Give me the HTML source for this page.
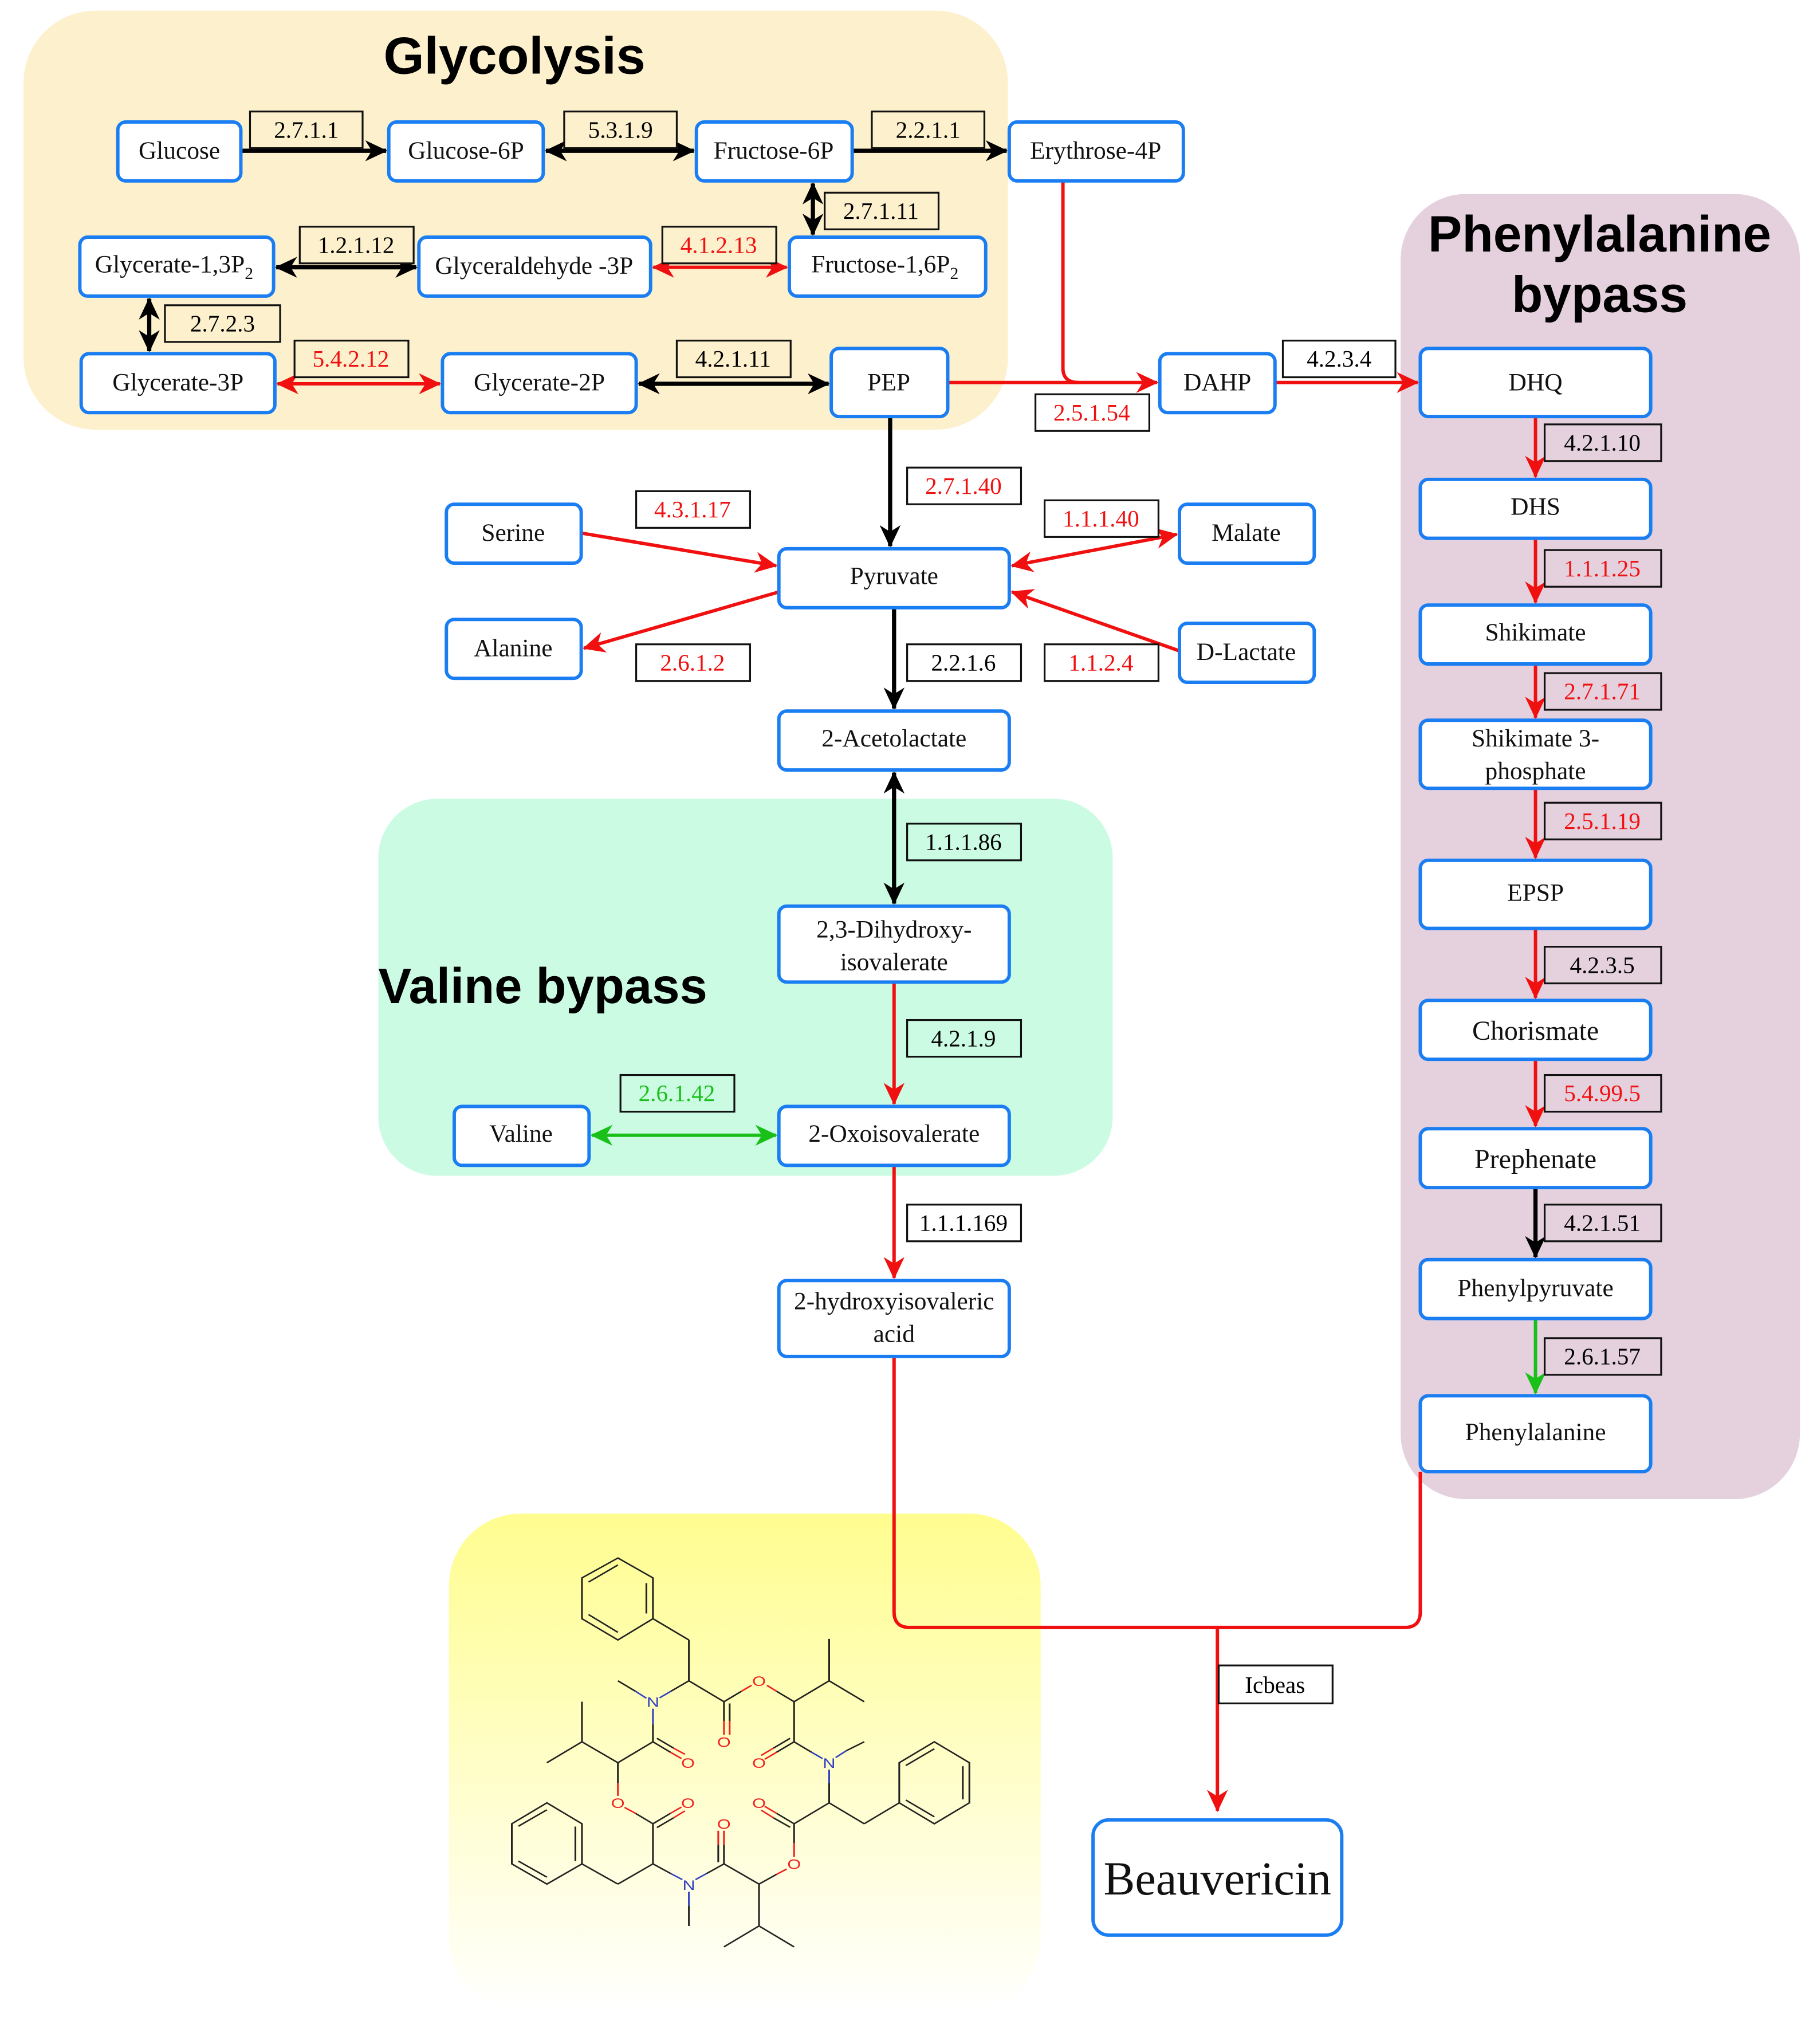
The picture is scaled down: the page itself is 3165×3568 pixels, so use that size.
<!DOCTYPE html>
<html><head><meta charset="utf-8"><style>
html,body{margin:0;padding:0;background:#fff}
svg{display:block}
.b{fill:#fff;stroke:#1a7ef2;stroke-width:2.6}
.t{font-family:"Liberation Serif",serif;font-size:19px;text-anchor:middle;fill:#111}
.lb{fill:#fdf0cc;stroke:#111;stroke-width:1.4}
.lw{fill:#fff;stroke:#111;stroke-width:1.4}
.lp{fill:#e5d1de;stroke:#111;stroke-width:1.4}
.lg{fill:#ccfbe4;stroke:#111;stroke-width:1.4}
.n{font-family:"Liberation Serif",serif;font-size:18px;text-anchor:middle}
.k{stroke:#000;stroke-width:3.2;fill:none}
.r{stroke:#f01010;stroke-width:2.6;fill:none}
.g{stroke:#18c018;stroke-width:2.6;fill:none}
.h{font-family:"Liberation Sans",sans-serif;font-weight:bold;fill:#000}
.m line{stroke:#222;stroke-width:4}
.m .o{stroke:#f02020}
.m .nn{stroke:#3040c0}
.m text{font-family:"Liberation Sans",sans-serif;font-size:40px;text-anchor:middle}
</style></head><body>
<svg width="3165" height="3568" viewBox="0 0 1385 1561" xmlns="http://www.w3.org/2000/svg">
<defs>
<marker id="ak" markerUnits="userSpaceOnUse" markerWidth="20" markerHeight="20" refX="16" refY="8" orient="auto-start-reverse" viewBox="0 0 20 16"><path d="M0,0 L17,8 L0,16 L5,8 Z" fill="#000"/></marker>
<marker id="ar" markerUnits="userSpaceOnUse" markerWidth="20" markerHeight="20" refX="16" refY="8" orient="auto-start-reverse" viewBox="0 0 20 16"><path d="M0,0 L17,8 L0,16 L5,8 Z" fill="#f01010"/></marker>
<marker id="ag" markerUnits="userSpaceOnUse" markerWidth="20" markerHeight="20" refX="16" refY="8" orient="auto-start-reverse" viewBox="0 0 20 16"><path d="M0,0 L17,8 L0,16 L5,8 Z" fill="#18c018"/></marker>
<linearGradient id="yg" x1="0" y1="0" x2="0" y2="1"><stop offset="0" stop-color="#fffd8f"/><stop offset="1" stop-color="#ffffff"/></linearGradient>
</defs>
<rect width="1385" height="1561" fill="#fff"/>
<rect x="18" y="8" width="752" height="320" rx="55" fill="#fdf0cc"/>
<rect x="1070" y="148" width="305" height="997" rx="50" fill="#e5d1de"/>
<rect x="289" y="610" width="561" height="288" rx="45" fill="#ccfbe4"/>
<rect x="343" y="1156" width="452" height="380" rx="55" fill="url(#yg)"/>
<text class="h" x="393" y="56" font-size="40" text-anchor="middle">Glycolysis</text>
<text class="h" x="1222" y="192" font-size="39" text-anchor="middle">Phenylalanine</text>
<text class="h" x="1222" y="238" font-size="39" text-anchor="middle">bypass</text>
<text class="h" x="289" y="766" font-size="38">Valine bypass</text>

<line class="k" x1="184" y1="115" x2="295" y2="115" marker-end="url(#ak)"/>
<line class="k" x1="417" y1="115" x2="530" y2="115" marker-start="url(#ak)" marker-end="url(#ak)"/>
<line class="k" x1="651" y1="115" x2="769" y2="115" marker-end="url(#ak)"/>
<line class="k" x1="621" y1="140" x2="621" y2="179" marker-start="url(#ak)" marker-end="url(#ak)"/>
<line class="k" x1="211" y1="204" x2="318" y2="204" marker-start="url(#ak)" marker-end="url(#ak)"/>
<line class="r" x1="499" y1="204" x2="601" y2="204" marker-start="url(#ar)" marker-end="url(#ar)" stroke-width="3.2"/>
<line class="k" x1="114" y1="228" x2="114" y2="268" marker-start="url(#ak)" marker-end="url(#ak)"/>
<line class="r" x1="212" y1="293" x2="336" y2="293" marker-start="url(#ar)" marker-end="url(#ar)" stroke-width="3.2"/>
<line class="k" x1="488" y1="293" x2="633" y2="293" marker-start="url(#ak)" marker-end="url(#ak)"/>
<line class="r" x1="724" y1="292" x2="884" y2="292" marker-end="url(#ar)"/>
<path class="r" d="M812,138 L812,281 Q812,292 824,292"/>
<line class="r" x1="974" y1="292" x2="1083" y2="292" marker-end="url(#ar)"/>
<line class="k" x1="680" y1="318" x2="680" y2="417" stroke-width="2.4" marker-end="url(#ak)"/>
<line class="r" x1="444" y1="407" x2="593" y2="432" marker-end="url(#ar)"/>
<line class="r" x1="899" y1="408" x2="773" y2="432" marker-start="url(#ar)" marker-end="url(#ar)"/>
<line class="r" x1="595" y1="452" x2="446" y2="495" marker-end="url(#ar)"/>
<line class="r" x1="901" y1="497" x2="773" y2="452" marker-end="url(#ar)"/>
<line class="k" x1="683" y1="464" x2="683" y2="541" stroke-width="2.4" marker-end="url(#ak)"/>
<line class="k" x1="683" y1="590" x2="683" y2="690" stroke-width="2.4" marker-start="url(#ak)" marker-end="url(#ak)"/>
<line class="r" x1="683" y1="750" x2="683" y2="843" marker-end="url(#ar)"/>
<line class="g" x1="452" y1="867" x2="593" y2="867" marker-start="url(#ag)" marker-end="url(#ag)"/>
<line class="r" x1="683" y1="890" x2="683" y2="976" marker-end="url(#ar)"/>
<path class="r" d="M683,1036 L683,1231 Q683,1243 695,1243 L1073,1243 Q1085,1243 1085,1231 L1085,1124"/>
<line class="r" x1="930" y1="1243" x2="930" y2="1383" marker-end="url(#ar)"/>
<line class="r" x1="1173" y1="318" x2="1173" y2="364" marker-end="url(#ar)"/>
<line class="r" x1="1173" y1="411" x2="1173" y2="460" marker-end="url(#ar)"/>
<line class="r" x1="1173" y1="507" x2="1173" y2="548" marker-end="url(#ar)"/>
<line class="r" x1="1173" y1="602" x2="1173" y2="655" marker-end="url(#ar)"/>
<line class="r" x1="1173" y1="709" x2="1173" y2="762" marker-end="url(#ar)"/>
<line class="r" x1="1173" y1="809" x2="1173" y2="860" marker-end="url(#ar)"/>
<line class="k" x1="1173" y1="907" x2="1173" y2="960" stroke-width="2.4" marker-end="url(#ak)"/>
<line class="g" x1="1173" y1="1007" x2="1173" y2="1064" marker-end="url(#ag)"/>

<g>
<rect class="lb" x="191" y="85" width="86" height="28"/><text class="n" x="234" y="105">2.7.1.1</text>
<rect class="lb" x="431" y="85" width="86" height="28"/><text class="n" x="474" y="105">5.3.1.9</text>
<rect class="lb" x="666" y="85" width="86" height="28"/><text class="n" x="709" y="105">2.2.1.1</text>
<rect class="lb" x="630" y="147" width="87" height="28"/><text class="n" x="673" y="167">2.7.1.11</text>
<rect class="lb" x="229" y="173" width="87" height="28"/><text class="n" x="272" y="193">1.2.1.12</text>
<rect class="lb" x="506" y="173" width="87" height="28"/><text class="n" x="549" y="193" fill="#f01010">4.1.2.13</text>
<rect class="lb" x="126" y="233" width="88" height="28"/><text class="n" x="170" y="253">2.7.2.3</text>
<rect class="lb" x="225" y="260" width="87" height="28"/><text class="n" x="268" y="280" fill="#f01010">5.4.2.12</text>
<rect class="lb" x="517" y="260" width="87" height="28"/><text class="n" x="560" y="280">4.2.1.11</text>
<rect class="lw" x="791" y="301" width="87" height="28"/><text class="n" x="834" y="321" fill="#f01010">2.5.1.54</text>
<rect class="lw" x="980" y="260" width="86" height="28"/><text class="n" x="1023" y="280">4.2.3.4</text>
<rect class="lw" x="693" y="357" width="87" height="28"/><text class="n" x="736" y="377" fill="#f01010">2.7.1.40</text>
<rect class="lw" x="486" y="375" width="87" height="28"/><text class="n" x="529" y="395" fill="#f01010">4.3.1.17</text>
<rect class="lw" x="798" y="382" width="87" height="28"/><text class="n" x="841" y="402" fill="#f01010">1.1.1.40</text>
<rect class="lw" x="486" y="492" width="87" height="28"/><text class="n" x="529" y="512" fill="#f01010">2.6.1.2</text>
<rect class="lw" x="693" y="492" width="87" height="28"/><text class="n" x="736" y="512">2.2.1.6</text>
<rect class="lw" x="798" y="492" width="87" height="28"/><text class="n" x="841" y="512" fill="#f01010">1.1.2.4</text>
<rect class="lg" x="693" y="629" width="87" height="28"/><text class="n" x="736" y="649">1.1.1.86</text>
<rect class="lg" x="693" y="779" width="87" height="28"/><text class="n" x="736" y="799">4.2.1.9</text>
<rect class="lg" x="474" y="821" width="87" height="28"/><text class="n" x="517" y="841" fill="#18c018">2.6.1.42</text>
<rect class="lw" x="693" y="920" width="87" height="28"/><text class="n" x="736" y="940">1.1.1.169</text>
<rect class="lp" x="1180" y="324" width="89" height="28"/><text class="n" x="1224" y="344">4.2.1.10</text>
<rect class="lp" x="1180" y="420" width="89" height="28"/><text class="n" x="1224" y="440" fill="#f01010">1.1.1.25</text>
<rect class="lp" x="1180" y="514" width="89" height="28"/><text class="n" x="1224" y="534" fill="#f01010">2.7.1.71</text>
<rect class="lp" x="1180" y="613" width="89" height="28"/><text class="n" x="1224" y="633" fill="#f01010">2.5.1.19</text>
<rect class="lp" x="1180" y="723" width="89" height="28"/><text class="n" x="1224" y="743">4.2.3.5</text>
<rect class="lp" x="1180" y="821" width="89" height="28"/><text class="n" x="1224" y="841" fill="#f01010">5.4.99.5</text>
<rect class="lp" x="1180" y="920" width="89" height="28"/><text class="n" x="1224" y="940">4.2.1.51</text>
<rect class="lp" x="1180" y="1022" width="89" height="28"/><text class="n" x="1224" y="1042">2.6.1.57</text>
<rect class="lw" x="931" y="1272" width="87" height="29"/><text class="n" x="974" y="1293">Icbeas</text>
</g>

<g>
<rect class="b" x="90" y="93" width="94" height="45" rx="6"/><text class="t" x="137" y="121">Glucose</text>
<rect class="b" x="297" y="93" width="118" height="45" rx="6"/><text class="t" x="356" y="121">Glucose-6P</text>
<rect class="b" x="532" y="93" width="119" height="45" rx="6"/><text class="t" x="591" y="121">Fructose-6P</text>
<rect class="b" x="771" y="93" width="133" height="45" rx="6"/><text class="t" x="837" y="121">Erythrose-4P</text>
<rect class="b" x="61" y="181" width="148" height="45" rx="6"/><text class="t" x="133" y="208">Glycerate-1,3P<tspan style="font-size:13px" dy="5">2</tspan></text>
<rect class="b" x="320" y="181" width="177" height="45" rx="6"/><text class="t" x="408" y="209">Glyceraldehyde -3P</text>
<rect class="b" x="603" y="181" width="150" height="45" rx="6"/><text class="t" x="676" y="208">Fructose-1,6P<tspan style="font-size:13px" dy="5">2</tspan></text>
<rect class="b" x="62" y="270" width="148" height="45" rx="6"/><text class="t" x="136" y="298">Glycerate-3P</text>
<rect class="b" x="338" y="270" width="148" height="45" rx="6"/><text class="t" x="412" y="298">Glycerate-2P</text>
<rect class="b" x="635" y="266" width="89" height="52" rx="6"/><text class="t" x="679" y="298">PEP</text>
<rect class="b" x="886" y="270" width="88" height="45" rx="6"/><text class="t" x="930" y="298">DAHP</text>
<rect class="b" x="1085" y="266" width="176" height="52" rx="6"/><text class="t" x="1173" y="298">DHQ</text>
<rect class="b" x="1085" y="366" width="176" height="45" rx="6"/><text class="t" x="1173" y="393">DHS</text>
<rect class="b" x="1085" y="462" width="176" height="45" rx="6"/><text class="t" x="1173" y="489">Shikimate</text>
<rect class="b" x="1085" y="550" width="176" height="52" rx="6"/><text class="t" x="1173" y="570">Shikimate 3-</text><text class="t" x="1173" y="595">phosphate</text>
<rect class="b" x="1085" y="657" width="176" height="52" rx="6"/><text class="t" x="1173" y="688">EPSP</text>
<rect class="b" x="1085" y="764" width="176" height="45" rx="6"/><text class="t" x="1173" y="794" style="font-size:21px">Chorismate</text>
<rect class="b" x="1085" y="862" width="176" height="45" rx="6"/><text class="t" x="1173" y="892" style="font-size:21px">Prephenate</text>
<rect class="b" x="1085" y="962" width="176" height="45" rx="6"/><text class="t" x="1173" y="990">Phenylpyruvate</text>
<rect class="b" x="1085" y="1066" width="176" height="58" rx="6"/><text class="t" x="1173" y="1100">Phenylalanine</text>
<rect class="b" x="341" y="385" width="103" height="45" rx="6"/><text class="t" x="392" y="413">Serine</text>
<rect class="b" x="901" y="385" width="103" height="45" rx="6"/><text class="t" x="952" y="413">Malate</text>
<rect class="b" x="595" y="419" width="176" height="45" rx="6"/><text class="t" x="683" y="446">Pyruvate</text>
<rect class="b" x="341" y="473" width="103" height="45" rx="6"/><text class="t" x="392" y="501">Alanine</text>
<rect class="b" x="901" y="476" width="103" height="45" rx="6"/><text class="t" x="952" y="504">D-Lactate</text>
<rect class="b" x="595" y="543" width="176" height="45" rx="6"/><text class="t" x="683" y="570">2-Acetolactate</text>
<rect class="b" x="595" y="692" width="176" height="58" rx="6"/><text class="t" x="683" y="716">2,3-Dihydroxy-</text><text class="t" x="683" y="741">isovalerate</text>
<rect class="b" x="347" y="845" width="103" height="45" rx="6"/><text class="t" x="398" y="872">Valine</text>
<rect class="b" x="595" y="845" width="176" height="45" rx="6"/><text class="t" x="683" y="872">2-Oxoisovalerate</text>
<rect class="b" x="595" y="978" width="176" height="58" rx="6"/><text class="t" x="683" y="1000">2-hydroxyisovaleric</text><text class="t" x="683" y="1025">acid</text>
<rect class="b" x="835" y="1390" width="190" height="88" rx="12" stroke-width="3"/><text class="t" x="930" y="1447" style="font-size:36px">Beauvericin</text>
</g>

<g class="m" transform="translate(306.3,1141.2) scale(0.3348,0.2664)">
<polygon points="495,183 575,240 575,357 495,418 413,357 413,240" fill="none" stroke="#222" stroke-width="4"/>
<line x1="560" y1="255" x2="560" y2="342"/><line x1="428" y1="252" x2="495" y2="203"/><line x1="428" y1="345" x2="495" y2="396"/>
<line x1="575" y1="357" x2="657" y2="418"/><line x1="657" y1="418" x2="657" y2="535"/>
<line x1="657" y1="535" x2="616" y2="565"/><line class="nn" x1="616" y1="565" x2="590" y2="584"/>
<line class="nn" x1="560" y1="585" x2="535" y2="565"/><line x1="535" y1="565" x2="495" y2="535"/>
<line x1="657" y1="535" x2="737" y2="595"/>
<line x1="737" y1="595" x2="737" y2="650"/><line class="o" x1="737" y1="650" x2="737" y2="690"/>
<line x1="750" y1="600" x2="750" y2="650"/><line class="o" x1="750" y1="650" x2="750" y2="690"/>
<line x1="737" y1="595" x2="777" y2="565"/><line class="o" x1="777" y1="565" x2="800" y2="548"/>
<line class="o" x1="835" y1="548" x2="857" y2="565"/><line x1="857" y1="565" x2="897" y2="595"/>
<line x1="897" y1="595" x2="977" y2="535"/><line x1="977" y1="535" x2="977" y2="415"/><line x1="977" y1="535" x2="1057" y2="595"/>
<line x1="897" y1="595" x2="897" y2="710"/>
<line x1="897" y1="710" x2="857" y2="740"/><line class="o" x1="857" y1="740" x2="830" y2="760"/>
<line x1="888" y1="700" x2="850" y2="728"/><line class="o" x1="850" y1="728" x2="822" y2="749"/>
<line x1="897" y1="710" x2="937" y2="740"/><line class="nn" x1="937" y1="740" x2="962" y2="758"/>
<line class="nn" x1="992" y1="755" x2="1017" y2="735"/><line x1="1017" y1="735" x2="1057" y2="710"/>
<line class="nn" x1="977" y1="790" x2="977" y2="828"/><line x1="977" y1="828" x2="977" y2="885"/>
<line x1="977" y1="885" x2="1057" y2="945"/><line x1="1057" y1="945" x2="1137" y2="885"/>
<polygon points="1137,885 1137,770 1217,710 1297,770 1297,885 1217,945" fill="none" stroke="#222" stroke-width="4"/>
<line x1="1152" y1="778" x2="1217" y2="730"/><line x1="1282" y1="780" x2="1282" y2="875"/><line x1="1152" y1="877" x2="1217" y2="925"/>
<line x1="977" y1="885" x2="897" y2="945"/>
<line x1="897" y1="945" x2="857" y2="915"/><line class="o" x1="857" y1="915" x2="830" y2="895"/>
<line x1="888" y1="955" x2="850" y2="928"/><line class="o" x1="850" y1="928" x2="822" y2="906"/>
<line x1="897" y1="945" x2="897" y2="1000"/><line class="o" x1="897" y1="1000" x2="897" y2="1040"/>
<line class="o" x1="880" y1="1075" x2="857" y2="1090"/><line x1="857" y1="1090" x2="817" y2="1118"/>
<line x1="817" y1="1118" x2="817" y2="1238"/><line x1="817" y1="1238" x2="737" y2="1298"/><line x1="817" y1="1238" x2="897" y2="1298"/>
<line x1="817" y1="1118" x2="737" y2="1060"/>
<line x1="737" y1="1060" x2="737" y2="1005"/><line class="o" x1="737" y1="1005" x2="737" y2="965"/>
<line x1="724" y1="1055" x2="724" y2="1005"/><line class="o" x1="724" y1="1005" x2="724" y2="965"/>
<line x1="737" y1="1060" x2="697" y2="1088"/><line class="nn" x1="697" y1="1088" x2="672" y2="1105"/>
<line class="nn" x1="657" y1="1140" x2="657" y2="1180"/><line x1="657" y1="1180" x2="657" y2="1238"/>
<line class="nn" x1="642" y1="1105" x2="616" y2="1088"/><line x1="616" y1="1088" x2="575" y2="1060"/>
<line x1="575" y1="1060" x2="495" y2="1118"/><line x1="495" y1="1118" x2="413" y2="1060"/>
<polygon points="413,1060 413,945 333,885 253,945 253,1060 333,1118" fill="none" stroke="#222" stroke-width="4"/>
<line x1="398" y1="953" x2="398" y2="1052"/><line x1="268" y1="952" x2="333" y2="905"/><line x1="268" y1="1052" x2="333" y2="1098"/>
<line x1="575" y1="1060" x2="575" y2="945"/>
<line x1="575" y1="945" x2="615" y2="915"/><line class="o" x1="615" y1="915" x2="640" y2="897"/>
<line x1="584" y1="956" x2="622" y2="928"/><line class="o" x1="622" y1="928" x2="648" y2="908"/>
<line x1="575" y1="945" x2="535" y2="915"/><line class="o" x1="535" y1="915" x2="510" y2="898"/>
<line class="o" x1="495" y1="865" x2="495" y2="828"/><line x1="495" y1="828" x2="495" y2="770"/>
<line x1="495" y1="770" x2="413" y2="710"/><line x1="413" y1="710" x2="413" y2="595"/><line x1="413" y1="710" x2="333" y2="770"/>
<line x1="495" y1="770" x2="575" y2="710"/>
<line x1="575" y1="710" x2="615" y2="740"/><line class="o" x1="615" y1="740" x2="640" y2="758"/>
<line x1="584" y1="700" x2="622" y2="728"/><line class="o" x1="622" y1="728" x2="648" y2="746"/>
<line x1="575" y1="710" x2="575" y2="660"/><line class="nn" x1="575" y1="660" x2="575" y2="615"/>
<text x="575" y="610" fill="#3040c0">N</text>
<text x="977" y="785" fill="#3040c0">N</text>
<text x="657" y="1135" fill="#3040c0">N</text>
<text x="817" y="550" fill="#f02020">O</text>
<text x="737" y="725" fill="#f02020">O</text>
<text x="817" y="785" fill="#f02020">O</text>
<text x="655" y="785" fill="#f02020">O</text>
<text x="495" y="900" fill="#f02020">O</text>
<text x="655" y="900" fill="#f02020">O</text>
<text x="817" y="900" fill="#f02020">O</text>
<text x="737" y="960" fill="#f02020">O</text>
<text x="897" y="1075" fill="#f02020">O</text>
</g>
</svg>
</body></html>
